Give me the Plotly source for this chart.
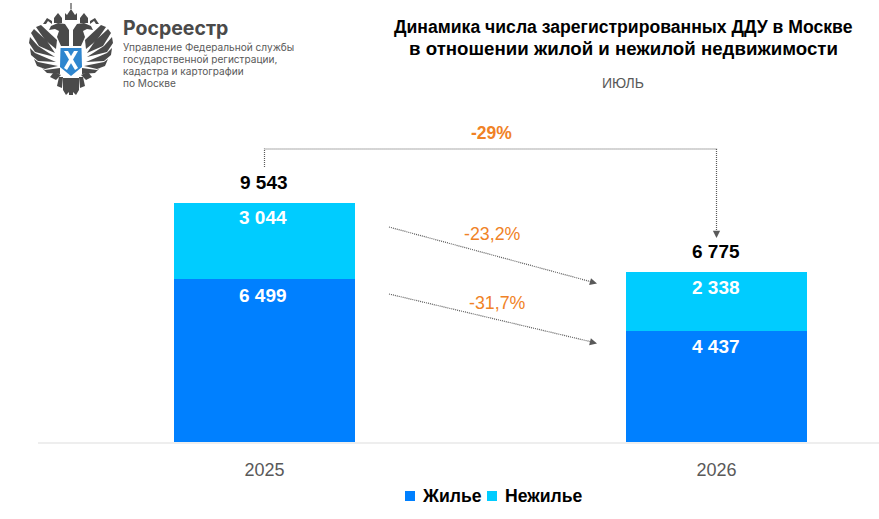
import plotly.graph_objects as go

years = ["2025", "2026"]
housing = [6499, 4437]
nonres = [3044, 2338]
totals = [9543, 6775]
housing_labels = ["6 499", "4 437"]
nonres_labels = ["3 044", "2 338"]
total_labels = ["9 543", "6 775"]
series_names = ["Жилье", "Нежилье"]
series_colors = ["#0080FF", "#00CCFF"]

W, H = 879, 519
L, R, T, B = 38, 0, 100, 77
FONT = "Liberation Sans, Arial, sans-serif"
GRAY = "#595959"
ORANGE = "#F08226"
LOGO = "#4a4a4a"


def px(x):
    return (x - L) / (W - L - R)


def py(y):
    return 1 - (y - T) / (H - T - B)


def path(pts, close=True):
    s = " ".join(("M" if i == 0 else "L") + f"{px(x):.5f},{py(y):.5f}" for i, (x, y) in enumerate(pts))
    return s + (" Z" if close else "")


fig = go.Figure()
fig.add_bar(name=series_names[0], x=years, y=housing, marker_color=series_colors[0], width=0.4, marker_line_width=0)
fig.add_bar(name=series_names[1], x=years, y=nonres, marker_color=series_colors[1], width=0.4, marker_line_width=0)

shapes = []
annotations = []


def add_dotted(pts):
    shapes.append(dict(type="path", xref="paper", yref="paper", path=path(pts, False),
                       line=dict(color=GRAY, width=1.2, dash="1px,1px"), fillcolor="rgba(0,0,0,0)"))


def add_head(x, y, ax, ay):
    annotations.append(dict(xref="paper", yref="paper", x=px(x), y=py(y), text="", showarrow=True,
                            axref="pixel", ayref="pixel", ax=ax, ay=ay, arrowhead=2, arrowsize=1.2,
                            arrowwidth=1.2, arrowcolor=GRAY))


add_dotted([(264.5, 167), (264.5, 149), (716.5, 149), (716.5, 232)])
add_head(716.5, 238, 0, -7)
add_dotted([(389, 227), (592, 282)])
add_head(597, 283.5, -7, -1.9)
add_dotted([(389, 294), (592, 342)])
add_head(597, 343.5, -7, -1.7)


def txt(x, y, s, size, color, bold=False, font=FONT, anchor="center", height=None):
    annotations.append(dict(xref="paper", yref="paper", x=px(x), y=py(y), text=f"<b>{s}</b>" if bold else s,
                            showarrow=False, xanchor=anchor, yanchor="middle", height=height,
                            font=dict(family=font, size=size, color=color)))


for i, year in enumerate(years):
    annotations.append(dict(x=i, y=totals[i], yref="y", xref="x", xshift=-0.5, text=f"<b>{total_labels[i]}</b>",
                            showarrow=False, yshift=20.5, font=dict(family=FONT, size=19, color="#000")))
    annotations.append(dict(x=i, y=totals[i], yref="y", xref="x", xshift=-1, text=f"<b>{nonres_labels[i]}</b>",
                            showarrow=False, yshift=-15, font=dict(family=FONT, size=19, color="#fff")))
    annotations.append(dict(x=i, y=housing[i], yref="y", xref="x", xshift=-1, text=f"<b>{housing_labels[i]}</b>",
                            showarrow=False, yshift=-16, font=dict(family=FONT, size=19, color="#fff")))

txt(491.5, 133, "-29%", 17.5, ORANGE, True)
txt(493, 234, "-23,2%", 17.8, ORANGE)
txt(497.5, 303, "-31,7%", 17.8, ORANGE)
txt(623.5, 27, "Динамика числа зарегистрированных ДДУ в Москве", 17.6, "#000", True)
txt(623, 48, "в отношении жилой и нежилой недвижимости", 18.7, "#000", True)
txt(623, 83, "ИЮЛЬ", 14, GRAY)

# logo text
txt(121, 28, "Росреестр", 19.5, LOGO, True, "Inter, Liberation Sans", "left")
for y, s in zip((47, 59, 71, 83),
                ("Управление Федеральной службы", "государственной регистрации,",
                 "кадастра и картографии", "по Москве")):
    txt(121, y, s, 10.1, "#5a5a5a", False, "Inter, Liberation Sans", "left", height=11.5)

# legend
for x0, xt, name, color in zip((405, 487), (422, 505), series_names, series_colors):
    shapes.append(dict(type="rect", xref="paper", yref="paper", x0=px(x0), x1=px(x0 + 10),
                       y0=py(501), y1=py(491), fillcolor=color, line_width=0))
    txt(xt - 2, 496, name, 17.6, "#000", True, FONT, "left")


# logo emblem
def poly(pts, color):
    shapes.append(dict(type="path", xref="paper", yref="paper", path=path(pts), fillcolor=color, line_width=0))


def mirror(pts):
    return [(142 - x, y) for x, y in pts]


pairs = [
    # wing feathers, outer to lower
    [(57, 40), (41, 25), (36, 27), (45, 40), (56, 49)],
    [(47, 41), (34, 29), (31, 33), (39, 46), (55, 53)],
    [(38, 46), (30, 37), (29, 43), (35, 52), (55, 57)],
    [(35, 53), (30, 48), (31, 55), (38, 61), (56, 62)],
    [(38, 62), (34, 59), (37, 66), (45, 69), (58, 66)],
    [(45, 70), (42, 68), (47, 73), (60, 74), (60, 68)],
    # neck and head with beak curling outward
    [(69, 30), (65, 24), (58, 23), (51, 26), (49, 30), (55, 29), (59, 31), (57, 37), (61, 46), (69, 46)],
    # crown arm
    [(52, 21), (47, 18), (43, 24), (46, 24), (48, 21), (52, 24)],
    # tail and legs
    [(63, 78), (70, 78), (69, 92), (66, 95), (63, 90)],
    [(59, 77), (63, 77), (62, 88), (57, 86)],
    [(54, 72), (61, 75), (56, 80), (50, 77)],
]
for w in pairs:
    poly(w, LOGO)
    poly(mirror(w), LOGO)
poly([(69, 78), (73, 78), (73, 95), (69, 95)], LOGO)
# crowns and cross
poly([(65, 20), (65, 13), (67, 15), (71, 9), (75, 15), (77, 13), (77, 20)], LOGO)
poly([(70.4, 3), (71.6, 3), (71.6, 9), (70.4, 9)], LOGO)
for cx in (58, 84):
    poly([(cx - 4, 23), (cx - 4, 18), (cx, 13), (cx + 4, 18), (cx + 4, 23)], LOGO)
# shield
poly([(60.5, 48), (81.5, 48), (82, 67), (71, 76), (60, 67)], "#2f86cf")
bar = [(64, 51), (68, 51), (78, 68), (75, 70)]
poly(bar, "#ffffff")
poly(mirror(bar), "#ffffff")

fig.update_layout(
    width=W, height=H, barmode="stack", plot_bgcolor="#fff", paper_bgcolor="#fff",
    margin=dict(l=L, r=R, t=T, b=B), bargap=0,
    xaxis=dict(type="category", range=[-0.501, 1.3595], showgrid=False, showline=True, linecolor="#eeeeee",
               linewidth=1.5, ticks="", tickfont=dict(family=FONT, size=18, color=GRAY), ticklabelstandoff=11),
    yaxis=dict(range=[0, 13653], visible=False),
    shapes=shapes, annotations=annotations, showlegend=False,
)
fig.write_html("out.html", config={"displayModeBar": False}, post_script="document.body.style.margin='0';")
